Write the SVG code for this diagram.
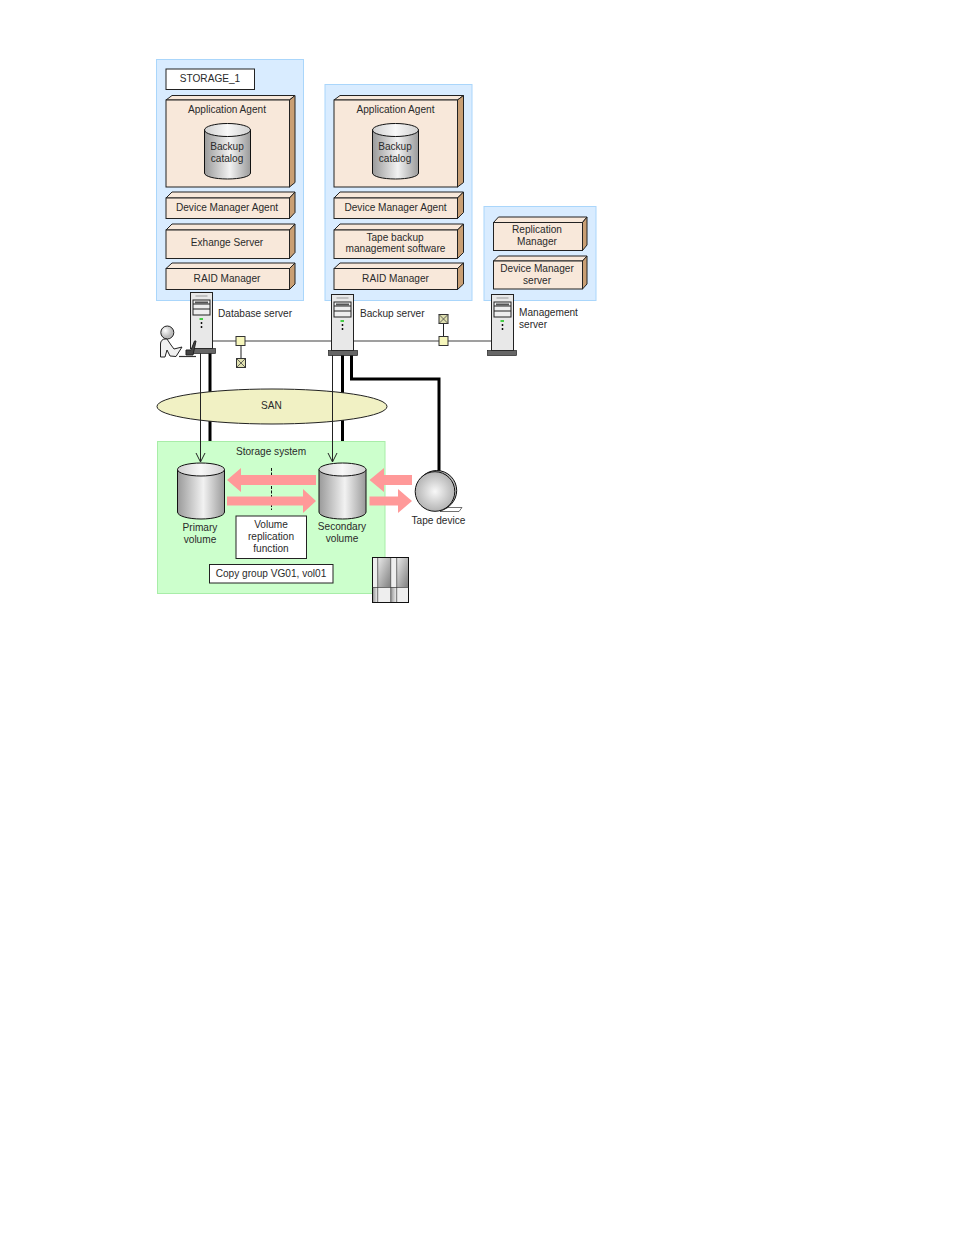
<svg xmlns="http://www.w3.org/2000/svg" width="954" height="1235" viewBox="0 0 954 1235">
<style>
text{font-family:"Liberation Sans",Arial,sans-serif;font-size:10.1px;fill:#2a2a2a;text-anchor:middle}
.l{text-anchor:start}
.panel{fill:#d9ecff;stroke:#aad6fb;stroke-width:1}
.front{fill:#f8e8da;stroke:#222;stroke-width:1}
.top{fill:#f8e8da;stroke:#222;stroke-width:1}
.side{fill:#c99f74;stroke:#222;stroke-width:1}
.box{fill:#fff;stroke:#222;stroke-width:1}
.cyl{fill:url(#cg);stroke:#111;stroke-width:1}
.cap{fill:url(#cg2);stroke:#111;stroke-width:1}
.pink{fill:#ff9999}
.net{stroke:#808080;stroke-width:1.500;fill:none}
.thick{stroke:#000;stroke-width:3;fill:none}
.thin{stroke:#222;stroke-width:1;fill:none}
.hub{fill:#f7f7bc;stroke:#333;stroke-width:1}
.base{fill:#666;stroke:#222;stroke-width:.7}
</style>
<defs>
<linearGradient id="cg" x1="0" x2="1" y1="0" y2="0"><stop offset="0" stop-color="#9a9a9a"/><stop offset=".55" stop-color="#f2f2f2"/><stop offset="1" stop-color="#9a9a9a"/></linearGradient>
<linearGradient id="cg2" x1="0" x2="1" y1="0" y2="0"><stop offset="0" stop-color="#d0d0d0"/><stop offset=".5" stop-color="#f8f8f8"/><stop offset="1" stop-color="#d0d0d0"/></linearGradient>
<linearGradient id="sg" x1="0" x2="1" y1="0" y2="1"><stop offset="0" stop-color="#e8e8e8"/><stop offset="1" stop-color="#808080"/></linearGradient>
<linearGradient id="sl" x1="0" x2="1" y1="0" y2="0"><stop offset="0" stop-color="#999"/><stop offset="1" stop-color="#f0f0f0"/></linearGradient>
<radialGradient id="tg"><stop offset="0" stop-color="#f8f8f8"/><stop offset="1" stop-color="#b4b4b4"/></radialGradient>
<radialGradient id="pg" cx=".35" cy=".35"><stop offset="0" stop-color="#fff"/><stop offset="1" stop-color="#bbb"/></radialGradient>
<g id="srv">
<rect x="0" y="0" width="22" height="56" fill="#e8e8e8" stroke="#222"/>
<path d="M5 3.500h12" stroke="#999"/>
<rect x="2.500" y="7.500" width="17" height="15" fill="#eee" stroke="#222"/>
<path d="M2.500 11.500h17M2.500 16.500h17" stroke="#222"/>
<rect x="4.500" y="9" width="13" height="2" fill="#555"/>
<rect x="9" y="25.500" width="3.500" height="2" fill="#4c4"/>
<path d="M11 29.500v2M11 33.500v2" stroke="#111" stroke-width="1.500"/>
</g>
<g id="x"><rect x="-4.500" y="-4.500" width="9" height="9" fill="#dfe0b0" stroke="#333"/><path d="M-4.500 -4.500L4.500 4.500M4.500 -4.500L-4.500 4.500" stroke="#444" stroke-width=".8"/></g>
</defs>
<rect width="954" height="1235" fill="#fff"/>

<g id="panels">
<rect class="panel" x="156.500" y="59.500" width="147" height="241"/>
<rect class="panel" x="325" y="84.500" width="147" height="216"/>
<rect class="panel" x="484" y="206.500" width="112" height="94"/>
</g>

<g id="storage-label"><rect class="box" x="166" y="69" width="88.500" height="20.500"/><text x="210" y="82">STORAGE_1</text></g>

<g id="app-agent-1">
<path class="top" d="M166 100l6-4.500h123l-5.500 4.500z"/><path class="side" d="M289.500 100l5.500-4.500v87l-5.500 4.500z"/><rect class="front" x="166" y="100" width="123.500" height="87"/>
<text x="227" y="113">Application Agent</text>
<path class="cyl" d="M204.500 130v43c0 3.500 10 6 23 6s23-2.500 23-6v-43z"/><ellipse class="cap" cx="227.500" cy="130" rx="23" ry="6.500"/>
<text x="227" y="150">Backup</text><text x="227" y="162">catalog</text>
</g>
<g id="dma-1">
<path class="top" d="M166 198l6-6h123l-5.500 6z"/><path class="side" d="M289.500 198l5.500-6v20.500l-5.500 6z"/><rect class="front" x="166" y="198" width="123.500" height="20.500"/>
<text x="227" y="211">Device Manager Agent</text>
</g>
<g id="exchange">
<path class="top" d="M166 230l6-6h123l-5.500 6z"/><path class="side" d="M289.500 230l5.500-6v28.500l-5.500 6z"/><rect class="front" x="166" y="230" width="123.500" height="28.500"/>
<text x="227" y="246">Exhange Server</text>
</g>
<g id="raid-1">
<path class="top" d="M166 268.500l6-5.500h123l-5.500 5.500z"/><path class="side" d="M289.500 268.500l5.500-5.500v21l-5.500 5.500z"/><rect class="front" x="166" y="268.500" width="123.500" height="21"/>
<text x="227" y="282">RAID Manager</text>
</g>

<g id="app-agent-2">
<path class="top" d="M334 100l6-4.500h123.500l-6 4.500z"/><path class="side" d="M457.500 100l6-4.500v87l-6 4.500z"/><rect class="front" x="334" y="100" width="123.500" height="87"/>
<text x="395.500" y="113">Application Agent</text>
<path class="cyl" d="M372.500 130v43c0 3.500 10 6 23 6s23-2.500 23-6v-43z"/><ellipse class="cap" cx="395.500" cy="130" rx="23" ry="6.500"/>
<text x="395" y="150">Backup</text><text x="395" y="162">catalog</text>
</g>
<g id="dma-2">
<path class="top" d="M334 198l6-6h123.500l-6 6z"/><path class="side" d="M457.500 198l6-6v20.500l-6 6z"/><rect class="front" x="334" y="198" width="123.500" height="20.500"/>
<text x="395.500" y="211">Device Manager Agent</text>
</g>
<g id="tape-sw">
<path class="top" d="M334 230l6-6h123.500l-6 6z"/><path class="side" d="M457.500 230l6-6v28.500l-6 6z"/><rect class="front" x="334" y="230" width="123.500" height="28.500"/>
<text x="395" y="241">Tape backup</text><text x="395.500" y="252">management software</text>
</g>
<g id="raid-2">
<path class="top" d="M334 268.500l6-5.500h123.500l-6 5.500z"/><path class="side" d="M457.500 268.500l6-5.500v21l-6 5.500z"/><rect class="front" x="334" y="268.500" width="123.500" height="21"/>
<text x="395.500" y="282">RAID Manager</text>
</g>

<g id="replication-manager">
<path class="top" d="M493.500 222.500l5-5.500h88.500l-4.500 5.500z"/><path class="side" d="M582.500 222.500l4.500-5.500v28l-4.500 5.500z"/><rect class="front" x="493.500" y="222.500" width="89" height="28"/>
<text x="537" y="233">Replication</text><text x="537" y="245">Manager</text>
</g>
<g id="dm-server">
<path class="top" d="M493.500 261l5-5h88.500l-4.500 5z"/><path class="side" d="M582.500 261l4.500-5v28l-4.500 5z"/><rect class="front" x="493.500" y="261" width="89" height="28"/>
<text x="537" y="272">Device Manager</text><text x="537" y="284">server</text>
</g>

<g id="storage-bg"><rect x="157.500" y="441.500" width="227.500" height="152" fill="#ccffcc" stroke="#a8eda8"/></g>

<g id="connectors">
<path class="net" d="M213 341H331M354 341H491"/>
<path class="thin" d="M241 341V363M443.500 319V341"/>
<path class="thick" d="M210 353V441M342.500 355V441"/>
<path class="thick" d="M351.500 355V379H439V473"/>
</g>
<g id="san"><ellipse cx="272" cy="406.500" rx="115" ry="17.500" fill="#f1f1c4" stroke="#222"/></g>
<g id="san-links">
<path class="thin" d="M200.500 353V462M196 453l4.500 9 4.500-9M332.500 355V462M328 453l4.500 9 4.500-9"/>
</g>

<g id="hub-1"><rect class="hub" x="236" y="336.500" width="9" height="9"/></g>
<g id="hub-2"><rect class="hub" x="439" y="336.500" width="9" height="9"/></g>
<g id="term-1"><use href="#x" x="241" y="363"/></g>
<g id="term-2"><use href="#x" x="443.500" y="319"/></g>

<g id="db-server">
<use href="#srv" x="190.500" y="292.500"/>
<rect class="base" x="193" y="348.500" width="22.500" height="5"/>
<text class="l" x="218" y="317">Database server</text>
</g>
<g id="person">
<circle cx="167.300" cy="332.500" r="6.500" fill="url(#pg)" stroke="#222"/>
<path d="M160.500 357V344c0-3 2-5 4.500-5h2l4 6 3 4 8-2-6 9.500-6-.5-3-6-2 7z" fill="#f0f0f0" stroke="#222"/>
<path d="M179 356.500h17" stroke="#333" stroke-width="1.200" fill="none"/>
<path d="M186 350h5l3.500-9h1.500l-3 14h-7z" fill="#444" stroke="#222"/>
</g>
<g id="backup-server">
<use href="#srv" x="331.500" y="294.500"/>
<rect class="base" x="328.500" y="350.500" width="29" height="5"/>
<text class="l" x="360" y="317">Backup server</text>
</g>
<g id="mgmt-server">
<use href="#srv" x="491.500" y="294.500"/>
<rect class="base" x="487.500" y="350.500" width="29" height="5"/>
<text class="l" x="519" y="315.500">Management</text><text class="l" x="519" y="327.500">server</text>
</g>
<text x="271.500" y="409">SAN</text>

<g id="storage-system">
<text x="271" y="455">Storage system</text>
<path d="M271.500 468V510" stroke="#111" stroke-dasharray="3 1.500" fill="none"/>
<path class="pink" d="M316 475H241V468L227 480L241 492V485H316z"/>
<path class="pink" d="M227 496.500H303V489L316 501L303 513V505.500H227z"/>
<path class="pink" d="M412 475H384V468L369.500 480L384 492V485H412z"/>
<path class="pink" d="M369.500 496.500H398V489L412 501L398 513V505.500H369.500z"/>
</g>
<g id="primary-volume">
<path class="cyl" d="M177.500 469.500V512c0 4 10.500 7 23.500 7s23.500-3 23.500-7V469.500z"/><ellipse class="cap" cx="201" cy="469.500" rx="23.500" ry="6.500"/>
<text x="200" y="531">Primary</text><text x="200" y="543">volume</text>
</g>
<g id="secondary-volume">
<path class="cyl" d="M319 469.500V512c0 4 10.500 7 23.500 7s23.500-3 23.500-7V469.500z"/><ellipse class="cap" cx="342.500" cy="469.500" rx="23.500" ry="6.500"/>
<text x="342" y="530">Secondary</text><text x="342" y="542">volume</text>
</g>
<g id="replication-fn">
<rect class="box" x="236" y="516" width="70.500" height="42.500"/>
<text x="271" y="528">Volume</text><text x="271" y="540">replication</text><text x="271" y="552">function</text>
</g>
<g id="copy-group">
<rect class="box" x="209.500" y="564.500" width="123.500" height="18.500"/>
<text x="271" y="577">Copy group VG01, vol01</text>
</g>
<g id="storage-icon">
<rect x="372.500" y="557.500" width="36" height="45" fill="#eee" stroke="#111"/>
<rect x="378" y="558" width="12.500" height="29" fill="url(#sg)"/><rect x="397" y="558" width="11" height="29" fill="url(#sg)"/>
<rect x="373" y="587.500" width="4.500" height="14.500" fill="url(#sl)"/><rect x="391" y="587.500" width="5.500" height="14.500" fill="url(#sl)"/>
<rect x="378" y="587.500" width="12.500" height="14.500" fill="#eee"/><rect x="397" y="587.500" width="11" height="14.500" fill="#eee"/>
<path d="M372.500 587.500H408.500M377.700 558V602M390.700 558V602M396.700 558V602" stroke="#333" stroke-width=".7"/>
</g>
<g id="tape-device">
<path d="M440 511.500H459L462 507.500H448z" fill="#fff" stroke="#333" stroke-width=".7"/>
<circle cx="436.700" cy="490.500" r="20" fill="#bbb" stroke="#111"/>
<circle cx="435" cy="491.500" r="19.800" fill="url(#tg)" stroke="#111"/>
<text x="438.500" y="524">Tape device</text>
</g>
</svg>
